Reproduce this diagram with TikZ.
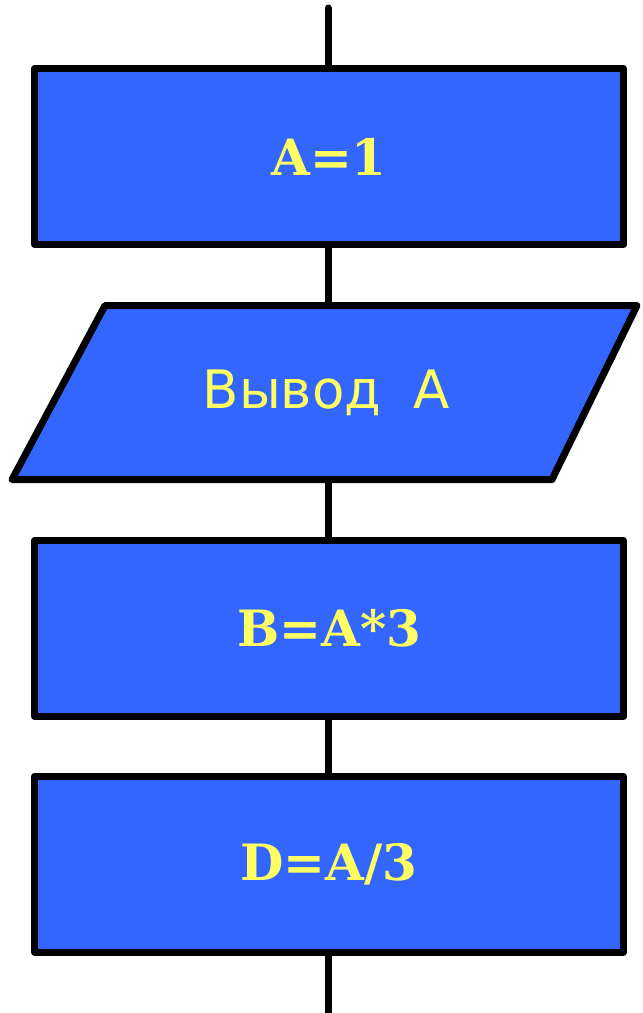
\documentclass[tikz,border=0pt]{standalone}
\usepackage{fontspec}
\newfontfamily\slabfont{DejaVu Serif}
\newfontfamily\cyrfont{DejaVu Sans}
\definecolor{boxblue}{RGB}{51,102,255}
\definecolor{txtyellow}{RGB}{255,255,100}
\begin{document}
\begin{tikzpicture}[x=1pt,y=-1pt,
  flowbox/.style={draw=black, line width=7pt, fill=boxblue, line join=round,
    minimum width=589pt, minimum height=176pt, inner sep=0pt, text=txtyellow,
    font=\slabfont\bfseries\fontsize{50}{60}\selectfont},
  ioshape/.style={draw=black, line width=7pt, fill=boxblue, line join=round},
  iotext/.style={minimum width=530pt, minimum height=174pt, inner sep=0pt, text=txtyellow,
    font=\cyrfont\fontsize{53}{63}\selectfont},
  conn/.style={draw=black, line width=7pt}]
\useasboundingbox (0,0) rectangle (643,1013);
\node[flowbox] (a1) at (329,156.5) {A=1};
\draw[ioshape] (105,305.5) -- (637,305.5) -- (552,479.5) -- (12,479.5) -- cycle;
\node[iotext] (out) at (326,392.5) {Вывод\hspace{0.6em}A};
\node[flowbox] (b) at (329,628.5) {B=A*3};
\node[flowbox] (d) at (329,864) {D=A/3};
\coordinate (top) at (328,8);
\coordinate (bot) at (328,1013);
\draw[conn, line cap=round] (top) -- (top |- a1.north);
\draw[conn] (top |- a1.south) -- (top |- out.north);
\draw[conn] (top |- out.south) -- (top |- b.north);
\draw[conn] (top |- b.south) -- (top |- d.north);
\draw[conn] (top |- d.south) -- (bot);
\end{tikzpicture}
\end{document}
